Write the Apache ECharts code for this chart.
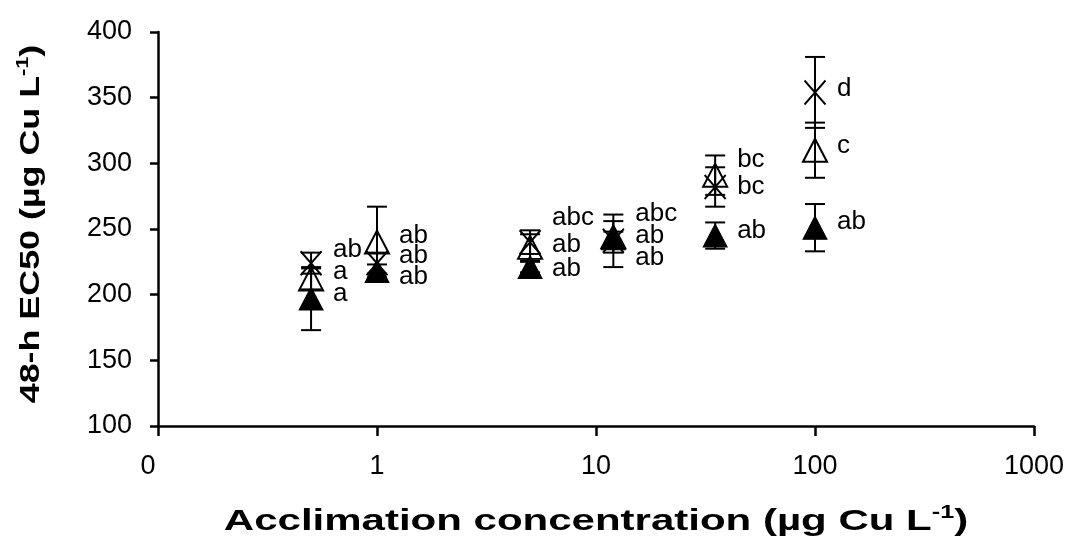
<!DOCTYPE html>
<html>
<head>
<meta charset="utf-8">
<script src="https://cdn.jsdelivr.net/npm/echarts@6/dist/echarts.min.js"></script>
<style>
  html, body { margin: 0; padding: 0; background: #fff; }
  #chart { width: 1071px; height: 557px; }
</style>
</head>
<body>
<div id="chart"></div>
<script>
// Acclimation concentrations (µg Cu/L); 0.1 is the axis origin shown as "0"
const concentrations = [0.5, 1, 5, 12, 35, 100];

// 48-h EC50 means and error half-widths per group
const crossMean   = [224, 224, 240, 241, 282, 354];
const crossErr    = [8, 8, 9, 20, 15, 27];
const crossLetters = ['ab', 'ab', 'abc', 'abc', 'bc', 'd'];

const openMean    = [212, 240, 236, 244, 291, 310];
const openErr     = [8, 27, 10, 12, 15, 21];
const openLetters = ['a', 'ab', 'ab', 'ab', 'bc', 'c'];

const filledMean  = [197, 218, 221, 243, 245, 251];
const filledErr   = [24, 5, 4, 5, 10, 18];
const filledLetters = ['a', 'ab', 'ab', 'ab', 'ab', 'ab'];

const xTickValues = [0.1, 1, 10, 100, 1000];
const xTickLabels = ['0', '1', '10', '100', '1000'];

const xTitle = ['Acclimation concentration (µg Cu L', '-1', ')'];
const yTitle = ['48-h EC50 (µg Cu L', '-1', ')'];

// vertical nudges (px) so the significance letters don't collide
const crossLabelDy  = [-13, -7, -24, -27, 0, -4];
const openLabelDy   = [-7, -6, -3, -1, -15, -4];
const filledLabelDy = [-5, 6, 2, 20, -5, -6];

const FONT = '"Liberation Sans", Arial, sans-serif';
const GRID = { left: 158, right: 37, top: 32, bottom: 131 };
const W = 1071, H = 557;

function errorBarSeries(means, errs) {
  return {
    type: 'custom',
    z: 1,
    silent: true,
    data: concentrations.map((c, i) => [c, means[i] - errs[i], means[i] + errs[i]]),
    encode: { x: 0, y: [1, 2] },
    renderItem(params, api) {
      const x = api.value(0);
      const lo = api.coord([x, api.value(1)]);
      const hi = api.coord([x, api.value(2)]);
      const hw = 10;
      const st = { stroke: '#000', lineWidth: 2 };
      return {
        type: 'group',
        children: [
          { type: 'line', shape: { x1: hi[0], y1: hi[1], x2: lo[0], y2: lo[1] }, style: st },
          { type: 'line', shape: { x1: hi[0] - hw, y1: hi[1], x2: hi[0] + hw, y2: hi[1] }, style: st },
          { type: 'line', shape: { x1: lo[0] - hw, y1: lo[1], x2: lo[0] + hw, y2: lo[1] }, style: st }
        ]
      };
    }
  };
}

function letterSeries(means, letters, dys) {
  return {
    type: 'scatter',
    z: 5,
    silent: true,
    symbolSize: 0,
    itemStyle: { opacity: 1 },
    data: concentrations.map((c, i) => ({
      value: [c, means[i]],
      label: {
        show: true,
        formatter: letters[i],
        position: 'right',
        distance: 0,
        offset: [22, dys[i]],
        fontFamily: FONT,
        fontSize: 26,
        color: '#000'
      }
    }))
  };
}

function titleText(parts, fs) {
  return {
    text: '{b|' + parts[0] + '}{s|' + parts[1] + '}{b|' + parts[2] + '}',
    rich: {
      b: { fontFamily: FONT, fontSize: fs, fontWeight: 'bold', fill: '#000' },
      s: { fontFamily: FONT, fontSize: Math.round(fs * 0.6), fontWeight: 'bold', fill: '#000',
           padding: [0, 0, Math.round(fs * 0.55), 0] }
    },
    align: 'center',
    verticalAlign: 'middle'
  };
}

function xLabel(v) {
  const i = xTickValues.findIndex(t => Math.abs(Math.log10(t) - Math.log10(v)) < 1e-6);
  if (i < 0) return '';
  return i === 0 ? '{z|' + xTickLabels[i] + '}' : xTickLabels[i];
}

const chart = echarts.init(document.getElementById('chart'));
chart.setOption({
  backgroundColor: '#fff',
  animation: false,
  grid: GRID,
  xAxis: {
    type: 'log',
    logBase: 10,
    min: 0.1,
    max: 1000,
    axisLine: { lineStyle: { color: '#000', width: 2.5 } },
    axisTick: { length: 10, lineStyle: { color: '#000', width: 2.5 } },
    minorTick: { show: false },
    splitLine: { show: false },
    axisLabel: {
      margin: 27,
      fontFamily: FONT,
      fontSize: 27,
      color: '#000',
      formatter: xLabel,
      rich: { z: { fontFamily: FONT, fontSize: 27, color: '#000', padding: [0, 20, 0, 0] } }
    }
  },
  yAxis: {
    type: 'value',
    min: 100,
    max: 400,
    interval: 50,
    axisLine: { show: true, lineStyle: { color: '#000', width: 2.5 } },
    axisTick: { show: true, length: 8, lineStyle: { color: '#000', width: 2.5 } },
    splitLine: { show: false },
    axisLabel: { margin: 26, fontFamily: FONT, fontSize: 27, color: '#000' }
  },
  graphic: [
    {
      type: 'text',
      x: (GRID.left + (W - GRID.right)) / 2,
      y: 522,
      scaleX: 1.4,
      silent: true,
      style: titleText(xTitle, 30)
    },
    {
      type: 'text',
      x: 31,
      y: 224,
      rotation: Math.PI / 2,
      scaleX: 1.28,
      silent: true,
      style: titleText(yTitle, 28)
    }
  ],
  series: [
    errorBarSeries(crossMean, crossErr),
    errorBarSeries(openMean, openErr),
    errorBarSeries(filledMean, filledErr),
    {
      type: 'scatter',
      z: 3,
      symbol: 'path://M0,0L20,24M20,0L0,24',
      symbolSize: [21, 24],
      itemStyle: { color: 'rgba(0,0,0,0)', borderColor: '#000', borderWidth: 2, opacity: 1 },
      data: concentrations.map((c, i) => [c, crossMean[i]])
    },
    {
      type: 'scatter',
      z: 3,
      symbol: 'triangle',
      symbolSize: [24, 23],
      itemStyle: { color: 'rgba(0,0,0,0)', borderColor: '#000', borderWidth: 2, opacity: 1 },
      data: concentrations.map((c, i) => [c, openMean[i]])
    },
    {
      type: 'scatter',
      z: 4,
      symbol: 'triangle',
      symbolSize: [24, 23],
      itemStyle: { color: '#000', borderColor: '#000', borderWidth: 1, opacity: 1 },
      data: concentrations.map((c, i) => [c, filledMean[i]])
    },
    letterSeries(crossMean, crossLetters, crossLabelDy),
    letterSeries(openMean, openLetters, openLabelDy),
    letterSeries(filledMean, filledLetters, filledLabelDy)
  ]
});
</script>
</body>
</html>
